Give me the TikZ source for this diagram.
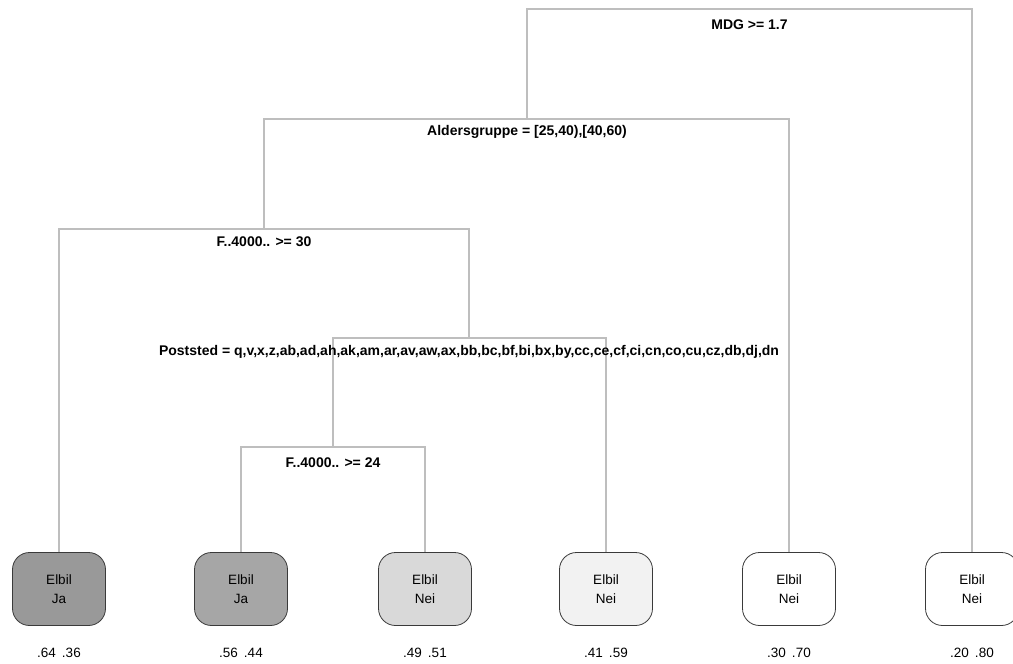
\documentclass[tikz,border=0pt]{standalone}
\usepackage{fontspec}
\setmainfont{Liberation Sans}
\usepackage{tikz}
\usetikzlibrary{positioning}
\definecolor{branchgray}{HTML}{BEBEBE}
\definecolor{leafedge}{HTML}{3A3A3A}
\definecolor{jadark}{HTML}{999999}
\definecolor{jalight}{HTML}{A6A6A6}
\definecolor{neimid}{HTML}{D9D9D9}
\definecolor{neilight}{HTML}{F2F2F2}
\tikzstyle{branch} = [draw=branchgray, line width=2pt]
\tikzstyle{leaf} = [rectangle, draw=leafedge, line width=0.8pt, rounded corners=17pt,
                    minimum width=93pt, minimum height=73pt, align=center,
                    font=\fontsize{13.5}{18.5}\selectfont, inner sep=0pt]
\tikzstyle{splitlab} = [font=\fontsize{14}{16}\selectfont\bfseries, inner sep=1pt]
\tikzstyle{prob} = [font=\fontsize{13.5}{16}\selectfont, inner sep=1pt]

\begin{document}
\begin{tikzpicture}[x=1pt, y=-1pt]
\useasboundingbox (0,0) rectangle (1013,664);

% split points
\coordinate (n1) at (749.5,9);
\coordinate (n2) at (527,119);
\coordinate (n3) at (264,229);
\coordinate (n4) at (469,338);
\coordinate (n5) at (333,447);

% leaves
\node [leaf, fill=jadark] (leaf1) at (59,589) {Elbil\\Ja};
\node [leaf, fill=jalight] (leaf2) at (241,589) {Elbil\\Ja};
\node [leaf, fill=neimid] (leaf3) at (425,589) {Elbil\\Nei};
\node [leaf, fill=neilight] (leaf4) at (606,589) {Elbil\\Nei};
\node [leaf, fill=white] (leaf5) at (789,589) {Elbil\\Nei};
\node [leaf, fill=white] (leaf6) at (972,589) {Elbil\\Nei};

% branches
\path [branch] (n2) |- (n1) -| (leaf6.north);
\path [branch] (n3) |- (n2) -| (leaf5.north);
\path [branch] (leaf1.north) |- (n3) -| (n4);
\path [branch] (n5) |- (n4) -| (leaf4.north);
\path [branch] (leaf2.north) |- (n5) -| (leaf3.north);

% split labels
\node [splitlab] (lab1) at ([yshift=-16pt]n1) {MDG >= 1.7};
\node [splitlab] (lab2) at ([yshift=-13pt]n2) {Aldersgruppe = [25,40),[40,60)};
\node [splitlab] (lab3) at ([yshift=-13pt]n3) {F..4000.. >= 30};
\node [splitlab] (lab4) at ([yshift=-14pt]n4) {Poststed = q,v,x,z,ab,ad,ah,ak,am,ar,av,aw,ax,bb,bc,bf,bi,bx,by,cc,ce,cf,ci,cn,co,cu,cz,db,dj,dn};
\node [splitlab] (lab5) at ([yshift=-16pt]n5) {F..4000.. >= 24};

% class probabilities
\node [prob, below=21pt of leaf1] (p1) {.64\hspace{6pt}.36};
\node [prob, below=21pt of leaf2] (p2) {.56\hspace{6pt}.44};
\node [prob, below=21pt of leaf3] (p3) {.49\hspace{6pt}.51};
\node [prob, below=21pt of leaf4] (p4) {.41\hspace{6pt}.59};
\node [prob, below=21pt of leaf5] (p5) {.30\hspace{6pt}.70};
\node [prob, below=21pt of leaf6] (p6) {.20\hspace{6pt}.80};

\end{tikzpicture}
\end{document}
